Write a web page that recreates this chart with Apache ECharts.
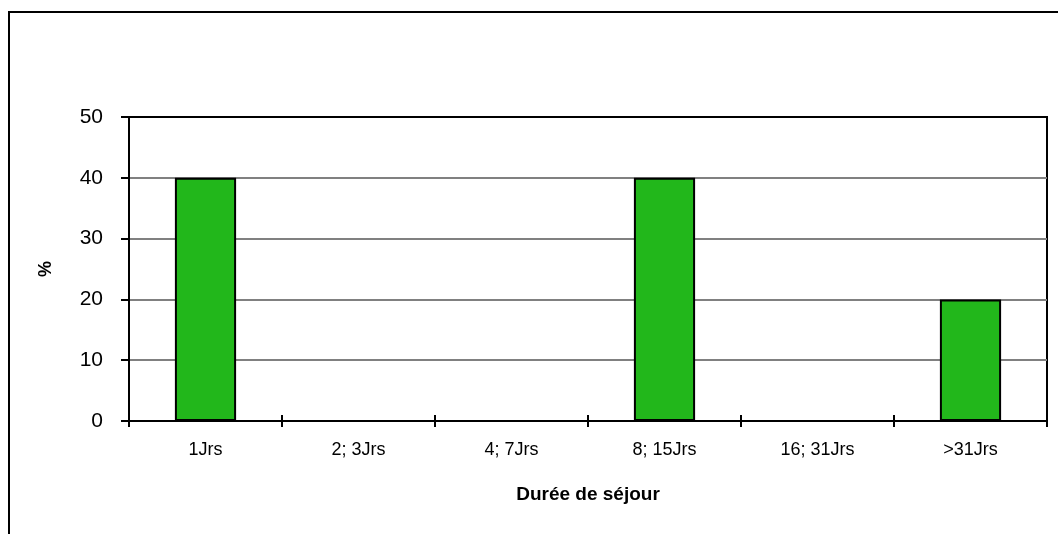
<!DOCTYPE html>
<html>
<head>
<meta charset="utf-8">
<script src="https://cdn.jsdelivr.net/npm/echarts@6/dist/echarts.min.js"></script>
<style>
  html, body { margin: 0; padding: 0; background: #fff; }
  #chart { width: 1058px; height: 534px; }
</style>
</head>
<body>
<div id="chart"></div>
<script>
// catégories et valeurs (%)
var categories = ['1Jrs', '2; 3Jrs', '4; 7Jrs', '8; 15Jrs', '16; 31Jrs', '>31Jrs'];
var values = [40, 0, 0, 40, 0, 20];
var yTicks = [0, 10, 20, 30, 40, 50];

var chart = echarts.init(document.getElementById('chart'));
var font = 'Liberation Sans, Arial, sans-serif';

chart.setOption({
  animation: false,
  graphic: [{
    type: 'rect',
    shape: { x: 9, y: 12, width: 1200, height: 700 },
    style: { fill: 'none', stroke: '#000', lineWidth: 2 },
    silent: true
  }],
  grid: {
    left: 129, top: 117, right: 11, bottom: 113,
    show: true, borderColor: '#000', borderWidth: 2, backgroundColor: '#fff'
  },
  xAxis: [{
    type: 'category',
    data: categories,
    name: 'Durée de séjour',
    nameLocation: 'middle',
    nameGap: 64,
    nameTextStyle: { fontFamily: font, fontSize: 19, fontWeight: 'bold', color: '#000' },
    axisLine: { lineStyle: { color: '#000', width: 2 } },
    axisTick: { show: true, length: 6, lineStyle: { color: '#000', width: 2 } },
    axisLabel: { fontFamily: font, fontSize: 18, color: '#000', margin: 20 },
    splitLine: { show: false }
  }, {
    // petits traits vers l'intérieur sur l'axe des x
    type: 'category',
    data: categories,
    position: 'bottom',
    axisLine: { show: false },
    axisTick: { show: true, inside: true, length: 6, lineStyle: { color: '#000', width: 2 } },
    axisLabel: { show: false },
    splitLine: { show: false }
  }],
  yAxis: {
    type: 'value',
    min: 0, max: 50, interval: 10,
    name: '%',
    nameLocation: 'middle',
    nameGap: 74,
    nameRotate: 90,
    nameTextStyle: { fontFamily: font, fontSize: 18, fontWeight: 'bold', color: '#000' },
    axisLine: { show: true, lineStyle: { color: '#000', width: 2 } },
    axisTick: { show: true, length: 8, lineStyle: { color: '#000', width: 2 } },
    axisLabel: {
      fontFamily: font, fontSize: 21, color: '#000', margin: 26,
      formatter: function (v) { return yTicks.indexOf(v) >= 0 ? String(v) : ''; }
    },
    splitLine: {
      show: true,
      lineStyle: { color: ['#808080', '#808080', '#808080', '#808080', '#808080', '#000'], width: 2 }
    }
  },
  series: [{
    type: 'bar',
    data: values,
    barWidth: '40%',
    itemStyle: { color: '#22b71b', borderColor: '#000', borderWidth: 2 }
  }]
});
</script>
</body>
</html>
